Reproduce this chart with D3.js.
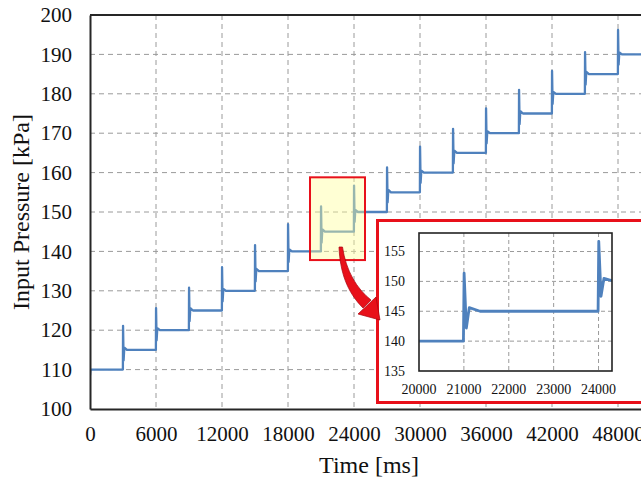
<!DOCTYPE html>
<html>
<head>
<meta charset="utf-8">
<script src="https://cdn.jsdelivr.net/npm/d3@7/dist/d3.min.js"></script>
<style>
  html, body { margin: 0; padding: 0; background: #fff; }
  svg { display: block; font-family: "Liberation Serif", "Times New Roman", serif; }
</style>
</head>
<body>
<svg id="chart" width="641" height="483"></svg>
<script>
// Pressure step test: time of each step (ms) and the settled level after it (kPa)
const startLevel = 110;
const startValue = 108.5;
const stepTimes = [3000, 6000, 9000, 12000, 15000, 18000, 21000, 24000,
                   27000, 30000, 33000, 36000, 39000, 42000, 45000, 48000];
const levels    = [115, 120, 125, 130, 135, 140, 145, 150,
                   155, 160, 165, 170, 175, 180, 185, 190];
// overshoot peak, undershoot dip and rebound at each step (kPa)
const peaks     = [121.1, 125.6, 130.8, 136.0, 141.6, 146.9, 151.4, 156.7,
                   161.3, 166.6, 171.1, 176.3, 181.0, 185.8, 190.6, 196.2];
const dips      = [112.3, 117.4, 122.3, 127.3, 132.4, 137.3, 142.2, 147.5,
                   152.4, 157.4, 162.3, 167.4, 172.3, 177.4, 182.3, 187.4];
const rebounds  = [115.6, 120.5, 125.6, 130.5, 135.6, 140.5, 145.6, 150.5,
                   155.6, 160.5, 165.6, 170.5, 175.6, 180.5, 185.6, 190.5];
// time offsets (ms) of the transient points relative to the step time
const transientOffsets = [-10, 5, 55, 120, 360];
const endTime = 50600;

const xTicks = [0, 6000, 12000, 18000, 24000, 30000, 36000, 42000, 48000];
const yTicks = [100, 110, 120, 130, 140, 150, 160, 170, 180, 190, 200];
const insetXTicks = [20000, 21000, 22000, 23000, 24000];
const insetYTicks = [135, 140, 145, 150, 155];

// build the recorded trace from the step table
const trace = [[0, startValue], [40, startLevel]];
let prev = startLevel;
stepTimes.forEach((t, i) => {
  const vals = [prev, peaks[i], dips[i], rebounds[i], levels[i]];
  transientOffsets.forEach((o, j) => trace.push([t + o, vals[j]]));
  prev = levels[i];
});
trace.push([endTime, prev]);

const svg = d3.select("#chart");
const blue = "#4f81bd";
const red = "#e8101a";
const gridColor = "#9a9a9a";
const serif = "'Liberation Serif', 'Times New Roman', serif";

// ---------- main chart ----------
const x = d3.scaleLinear().domain([0, 54000]).range([90, 684]);
const y = d3.scaleLinear().domain([100, 200]).range([409, 15]);

const main = svg.append("g");
main.append("clipPath").attr("id", "mainClip")
  .append("rect").attr("x", 90).attr("y", 15).attr("width", 594).attr("height", 394);

// grid
main.append("g").selectAll("line").data(yTicks.filter(v => v > 100 && v < 200)).join("line")
  .attr("x1", 90).attr("x2", 684).attr("y1", d => y(d)).attr("y2", d => y(d))
  .attr("stroke", gridColor).attr("stroke-width", 1).attr("stroke-dasharray", "5,4");
main.append("g").selectAll("line").data(xTicks.filter(v => v > 0)).join("line")
  .attr("x1", d => x(d)).attr("x2", d => x(d)).attr("y1", 15).attr("y2", 409)
  .attr("stroke", gridColor).attr("stroke-width", 1).attr("stroke-dasharray", "5,4");

// trace
const line = d3.line().x(d => x(d[0])).y(d => y(d[1]));
main.append("path").datum(trace)
  .attr("clip-path", "url(#mainClip)")
  .attr("d", line).attr("fill", "none")
  .attr("stroke", blue).attr("stroke-width", 2.3).attr("stroke-linejoin", "round");

// frame
main.append("line").attr("x1", 90).attr("x2", 684).attr("y1", 15).attr("y2", 15)
  .attr("stroke", "#262626").attr("stroke-width", 2);
const yAxis = d3.axisLeft(y).tickValues(yTicks).tickSize(0).tickPadding(18).tickFormat(d3.format("d"));
const gy = main.append("g").attr("transform", "translate(90,0)").call(yAxis);
const xAxis = d3.axisBottom(x).tickValues(xTicks).tickSize(0).tickPadding(17).tickFormat(d3.format("d"));
const gx = main.append("g").attr("transform", "translate(0,409)").call(xAxis);
[gx, gy].forEach(g => {
  g.attr("font-family", null).attr("font-size", null);
  g.select(".domain").attr("stroke", "#262626").attr("stroke-width", 2);
  g.selectAll("text").style("font-family", serif)
    .style("font-size", "21px").attr("fill", "#111");
});

// axis titles
svg.append("text").attr("x", 369).attr("y", 473).attr("text-anchor", "middle")
  .style("font-size", "24px").attr("fill", "#111").text("Time [ms]");
svg.append("text").attr("transform", "translate(29,212) rotate(-90)")
  .attr("text-anchor", "middle").style("font-size", "24px").attr("fill", "#111")
  .text("Input Pressure [kPa]");

// highlighted region
svg.append("rect")
  .attr("x", x(20000)).attr("y", y(158.8))
  .attr("width", x(25000) - x(20000)).attr("height", y(137.8) - y(158.8))
  .attr("fill", "#ffff99").attr("fill-opacity", 0.42)
  .attr("stroke", red).attr("stroke-width", 2);

// ---------- zoomed inset ----------
const inset = svg.append("g");
inset.append("rect").attr("x", 377.5).attr("y", 220.5).attr("width", 300).attr("height", 182)
  .attr("fill", "#fff").attr("stroke", red).attr("stroke-width", 3);

const ix = d3.scaleLinear().domain([20000, 24300]).range([419, 612]);
const iy = d3.scaleLinear().domain([135, 158.1]).range([371, 233]);

inset.append("clipPath").attr("id", "insetClip")
  .append("rect").attr("x", 419).attr("y", 233).attr("width", 193).attr("height", 138);

inset.append("g").selectAll("line").data(insetYTicks.filter(v => v > 135)).join("line")
  .attr("x1", 419).attr("x2", 612).attr("y1", d => iy(d)).attr("y2", d => iy(d))
  .attr("stroke", gridColor).attr("stroke-width", 1).attr("stroke-dasharray", "4,3");
inset.append("g").selectAll("line").data(insetXTicks.filter(v => v > 20000)).join("line")
  .attr("x1", d => ix(d)).attr("x2", d => ix(d)).attr("y1", 233).attr("y2", 371)
  .attr("stroke", gridColor).attr("stroke-width", 1).attr("stroke-dasharray", "4,3");

const iline = d3.line().x(d => ix(d[0])).y(d => iy(d[1]));
inset.append("path").datum(trace)
  .attr("clip-path", "url(#insetClip)")
  .attr("d", iline).attr("fill", "none")
  .attr("stroke", blue).attr("stroke-width", 2.8).attr("stroke-linejoin", "round");

inset.append("rect").attr("x", 419).attr("y", 233).attr("width", 193).attr("height", 138)
  .attr("fill", "none").attr("stroke", "#222").attr("stroke-width", 1.6);

inset.append("g").selectAll("text").data(insetYTicks).join("text")
  .attr("x", 405).attr("y", d => iy(d)).attr("dy", "0.35em")
  .attr("text-anchor", "end").style("font-size", "14px").attr("fill", "#111").text(d => d);
inset.append("g").selectAll("text").data(insetXTicks).join("text")
  .attr("x", d => ix(d)).attr("y", 394)
  .attr("text-anchor", "middle").style("font-size", "14px").attr("fill", "#111").text(d => d);

// ---------- curved arrow from the highlight to the inset ----------
const arrow = svg.append("g").attr("fill", red).attr("stroke", "#a8000c").attr("stroke-width", 0.7);
arrow.append("path")
  .attr("d", "M339,247 C340,272 347,292 363,308 L371,300 C357,289 346,271 342.5,247 Z");
arrow.append("path")
  .attr("d", "M358,314 L376,297 L380,320 Z");
</script>
</body>
</html>
